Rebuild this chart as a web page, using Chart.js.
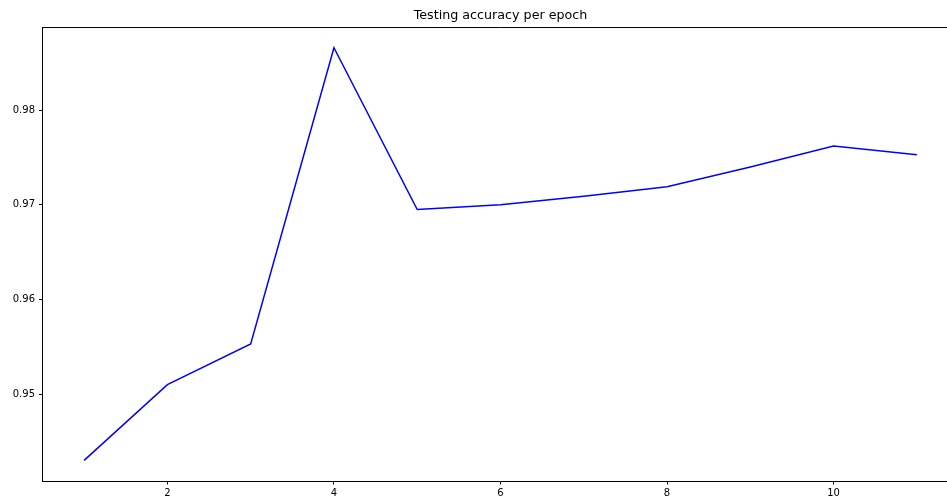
<!DOCTYPE html>
<html>
<head>
<meta charset="utf-8">
<script src="https://cdn.jsdelivr.net/npm/chart.js@4/dist/chart.umd.min.js"></script>
<style>
  html, body { margin: 0; padding: 0; background: #ffffff; overflow: hidden; }
  #wrap { width: 960px; height: 502px; }
</style>
</head>
<body>
<div id="wrap"><canvas id="c" width="960" height="502"></canvas></div>
<script>
const epochs = [1, 2, 3, 4, 5, 6, 7, 8, 9, 10, 11];
const accuracy = [0.9430, 0.9510, 0.9553, 0.9866, 0.9695, 0.9700, 0.9709, 0.9719, 0.9740, 0.9762, 0.9753];
const xTicks = [2, 4, 6, 8, 10];
const yTicks = [0.95, 0.96, 0.97, 0.98];
const titleText = 'Testing accuracy per epoch';

const yMinData = Math.min(...accuracy), yMaxData = Math.max(...accuracy);
const yPad = (yMaxData - yMinData) * 0.05;
const xPad = (epochs[epochs.length - 1] - epochs[0]) * 0.05;

const frame = {
  id: 'frame',
  afterDraw(chart) {
    const a = chart.chartArea, ctx = chart.ctx;
    ctx.save();
    ctx.strokeStyle = '#000000';
    ctx.lineWidth = 1;
    ctx.beginPath();
    ctx.moveTo(a.left, a.top + 0.5);
    ctx.lineTo(a.right, a.top + 0.5);
    ctx.moveTo(a.right - 0.5, a.top);
    ctx.lineTo(a.right - 0.5, a.bottom);
    ctx.stroke();
    ctx.restore();
  }
};

new Chart(document.getElementById('c'), {
  type: 'line',
  data: {
    datasets: [{
      data: epochs.map((e, i) => ({ x: e, y: accuracy[i] })),
      borderColor: '#0000ff',
      borderWidth: 1.5,
      pointRadius: 0,
      tension: 0,
      fill: false
    }]
  },
  options: {
    responsive: false,
    animation: false,
    devicePixelRatio: 1,
    layout: { padding: { left: 0, right: 1.5, top: 0, bottom: 0 } },
    plugins: {
      legend: { display: false },
      tooltip: { enabled: false },
      title: {
        display: true,
        text: titleText,
        fullSize: false,
        color: '#000000',
        font: { family: 'DejaVu Sans', size: 12.7, weight: 'normal', lineHeight: 1.2 },
        padding: { top: 8.4, bottom: 3.4 }
      }
    },
    scales: {
      x: {
        type: 'linear',
        min: epochs[0] - xPad,
        max: epochs[epochs.length - 1] + xPad,
        afterBuildTicks(s) { s.ticks = xTicks.map(v => ({ value: v })); },
        afterFit(s) { s.height = 21; },
        ticks: {
          color: '#000000',
          font: { family: 'DejaVu Sans', size: 10 },
          padding: 3,
          maxRotation: 0,
          autoSkip: false,
          callback: v => String(v)
        },
        grid: { display: true, drawOnChartArea: false, drawTicks: true, tickLength: 3.5, color: '#000000', lineWidth: 1 },
        border: { display: true, color: '#000000', width: 1 }
      },
      y: {
        type: 'linear',
        min: yMinData - yPad,
        max: yMaxData + yPad,
        afterBuildTicks(s) { s.ticks = yTicks.map(v => ({ value: v })); },
        afterFit(s) { s.width = 42.5; },
        ticks: {
          color: '#000000',
          font: { family: 'DejaVu Sans', size: 10 },
          padding: 4,
          autoSkip: false,
          callback: v => v.toFixed(2)
        },
        grid: { display: true, drawOnChartArea: false, drawTicks: true, tickLength: 3.5, color: '#000000', lineWidth: 1 },
        border: { display: true, color: '#000000', width: 1 }
      }
    }
  },
  plugins: [frame]
});
</script>
</body>
</html>
